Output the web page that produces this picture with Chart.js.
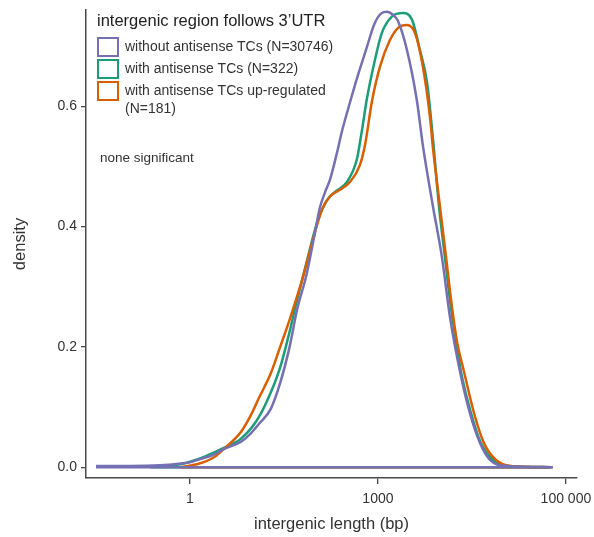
<!DOCTYPE html>
<html>
<head>
<meta charset="utf-8">
<script src="https://cdn.jsdelivr.net/npm/chart.js@4.4.0/dist/chart.umd.min.js"></script>
<style>
  html, body { margin: 0; padding: 0; background: #fff; }
  #wrap { width: 594px; height: 537px; }
</style>
</head>
<body>
<div id="wrap"><canvas id="densityChart" width="594" height="537"></canvas></div>
<script>
(function () {
  'use strict';

  // x positions are in axis units: 0 -> "1", 1 -> "1000", 2 -> "100 000"
  const xTickValues = [0, 1, 2];
  const xTickLabels = ['1', '1000', '100 000'];
  const yTickValues = [0, 0.2, 0.4, 0.6];

  const legendTitle = 'intergenic region follows 3\u2019UTR';
  const seriesLabels = [
    ['without antisense TCs (N=30746)'],
    ['with antisense TCs (N=322)'],
    ['with antisense TCs up-regulated', '(N=181)']
  ];
  const seriesColors = ['#7570B3', '#1B9E77', '#D95F02'];
  const noteText = 'none significant';

  const withoutX = [-0.50, -0.32, -0.16, -0.05, 0.00, 0.05, 0.12, 0.18, 0.27, 0.32, 0.37, 0.43, 0.48, 0.53, 0.57, 0.62, 0.665, 0.69, 0.72, 0.745, 0.78, 0.81, 0.85, 0.89, 0.94, 0.98, 1.016, 1.048, 1.08, 1.106, 1.154, 1.207, 1.239, 1.293, 1.34, 1.383, 1.436, 1.489, 1.543, 1.596, 1.686, 1.93];
  const withoutY = [0.002, 0.002, 0.003, 0.006, 0.008, 0.013, 0.020, 0.030, 0.042, 0.055, 0.073, 0.097, 0.140, 0.200, 0.262, 0.320, 0.390, 0.430, 0.458, 0.478, 0.520, 0.560, 0.605, 0.648, 0.697, 0.736, 0.754, 0.757, 0.752, 0.742, 0.694, 0.610, 0.535, 0.433, 0.350, 0.250, 0.160, 0.090, 0.040, 0.012, 0.002, 0.000];

  const withX = [-0.21, -0.05, 0.05, 0.18, 0.27, 0.35, 0.41, 0.48, 0.53, 0.57, 0.62, 0.676, 0.729, 0.782, 0.835, 0.888, 0.915, 0.941, 0.984, 1.021, 1.074, 1.133, 1.181, 1.223, 1.261, 1.293, 1.325, 1.356, 1.388, 1.415, 1.441, 1.495, 1.548, 1.612, 1.691, 1.91];
  const withY = [0.001, 0.005, 0.014, 0.032, 0.047, 0.075, 0.110, 0.166, 0.225, 0.278, 0.340, 0.406, 0.444, 0.460, 0.474, 0.512, 0.560, 0.612, 0.677, 0.722, 0.749, 0.755, 0.744, 0.694, 0.640, 0.545, 0.433, 0.350, 0.266, 0.210, 0.160, 0.090, 0.040, 0.012, 0.002, 0.000];

  const upX = [-0.05, 0.05, 0.13, 0.19, 0.27, 0.32, 0.37, 0.43, 0.48, 0.53, 0.564, 0.601, 0.654, 0.702, 0.745, 0.798, 0.851, 0.904, 0.931, 0.968, 1.011, 1.064, 1.106, 1.154, 1.197, 1.239, 1.277, 1.293, 1.330, 1.362, 1.394, 1.420, 1.457, 1.511, 1.564, 1.628, 1.707, 1.92];
  const upY = [0.000, 0.006, 0.017, 0.033, 0.058, 0.084, 0.117, 0.156, 0.200, 0.245, 0.278, 0.316, 0.378, 0.428, 0.450, 0.461, 0.474, 0.502, 0.535, 0.608, 0.666, 0.710, 0.730, 0.735, 0.722, 0.666, 0.582, 0.530, 0.433, 0.350, 0.266, 0.210, 0.160, 0.090, 0.040, 0.012, 0.002, 0.000];

  const seriesX = [withoutX, withX, upX];
  const seriesY = [withoutY, withY, upY];
  // draw order: purple on top, then orange, then green
  const seriesOrder = [1, 3, 2];

  const FONT = '"Liberation Sans", Arial, Helvetica, sans-serif';
  const TEXT = '#333333';
  const AXIS = '#4a4a4a';

  function points(xs, ys) {
    return xs.map(function (x, i) { return { x: x, y: ys[i] }; });
  }

  const datasets = [];
  seriesX.forEach(function (xs, i) {
    datasets.push({
      data: points(xs, seriesY[i]),
      borderColor: seriesColors[i],
      borderWidth: 2.5,
      pointRadius: 0,
      fill: false,
      cubicInterpolationMode: 'monotone',
      order: seriesOrder[i]
    });
    // closing baseline of the density outline
    datasets.push({
      data: [{ x: xs[0], y: 0 }, { x: xs[xs.length - 1], y: 0 }],
      borderColor: seriesColors[i],
      borderWidth: 2.5,
      pointRadius: 0,
      fill: false,
      tension: 0,
      order: seriesOrder[i]
    });
  });

  const legendPlugin = {
    id: 'boxLegend',
    afterDraw: function (chart) {
      const ctx = chart.ctx;
      ctx.save();
      ctx.fillStyle = '#222';
      ctx.textBaseline = 'middle';
      ctx.font = '16.5px ' + FONT;
      ctx.fillText(legendTitle, 97, 21);
      ctx.font = '14px ' + FONT;
      seriesLabels.forEach(function (lines, i) {
        const cy = 47 + i * 22;
        ctx.lineWidth = 2;
        ctx.strokeStyle = seriesColors[i];
        ctx.strokeRect(98, cy - 9, 20, 18);
        ctx.fillStyle = TEXT;
        lines.forEach(function (t, j) {
          ctx.fillText(t, 125, cy + j * 18);
        });
      });
      ctx.font = '13.5px ' + FONT;
      ctx.fillText(noteText, 100, 158);
      ctx.restore();
    }
  };

  new Chart(document.getElementById('densityChart'), {
    type: 'line',
    data: { datasets: datasets },
    plugins: [legendPlugin],
    options: {
      responsive: false,
      animation: false,
      layout: { padding: { left: 0, top: 10, right: 17, bottom: 0 } },
      plugins: { legend: { display: false }, tooltip: { enabled: false } },
      scales: {
        x: {
          type: 'linear',
          min: -0.553,
          max: 2.059,
          afterBuildTicks: function (scale) {
            scale.ticks = xTickValues.map(function (v) { return { value: v }; });
          },
          afterFit: function (scale) {
            scale.height = 59;
            scale.paddingLeft = 0;
            scale.paddingRight = 0;
          },
          ticks: {
            color: TEXT,
            font: { family: FONT, size: 14 },
            padding: 7,
            maxRotation: 0,
            callback: function (value, index) { return xTickLabels[index]; }
          },
          grid: { drawOnChartArea: false, drawTicks: true, tickLength: 6, color: AXIS, lineWidth: 1.3 },
          border: { display: true, color: AXIS, width: 1.5 },
          title: {
            display: true,
            text: 'intergenic length (bp)',
            color: TEXT,
            font: { family: FONT, size: 16.5 },
            padding: { top: 0, bottom: 3 }
          }
        },
        y: {
          type: 'linear',
          min: -0.018,
          max: 0.76,
          afterBuildTicks: function (scale) {
            scale.ticks = yTickValues.map(function (v) { return { value: v }; });
          },
          afterFit: function (scale) {
            scale.width = 86;
            scale.paddingTop = 0;
            scale.paddingBottom = 0;
          },
          ticks: {
            color: TEXT,
            font: { family: FONT, size: 14 },
            padding: 4,
            callback: function (value) { return value.toFixed(1); }
          },
          grid: { drawOnChartArea: false, drawTicks: true, tickLength: 5, color: AXIS, lineWidth: 1.3 },
          border: { display: true, color: AXIS, width: 1.5 },
          title: {
            display: true,
            text: 'density',
            color: TEXT,
            font: { family: FONT, size: 16.5 },
            padding: { top: 11, bottom: 0 }
          }
        }
      }
    }
  });
})();
</script>
</body>
</html>
